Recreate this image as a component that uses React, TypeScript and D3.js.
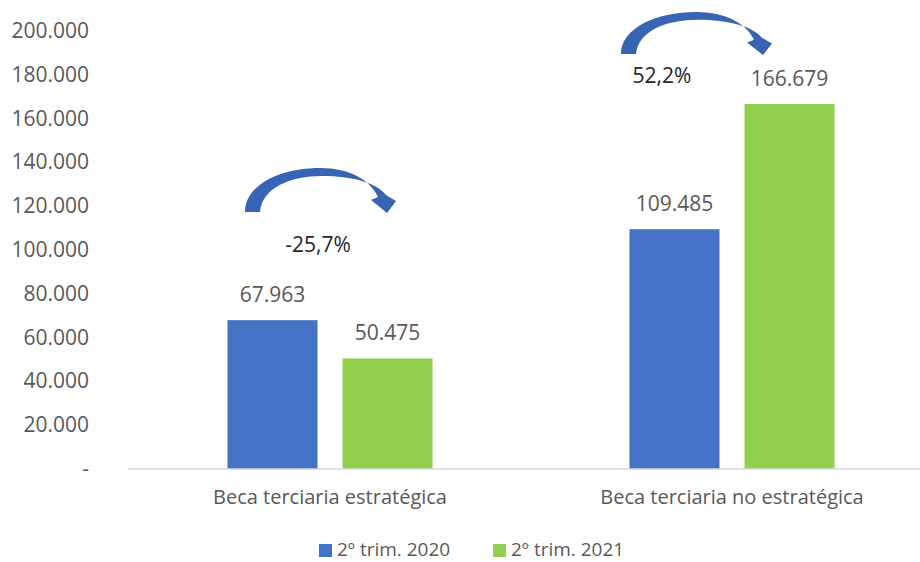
import React from "react";
import * as d3 from "d3";

const categories = ["Beca terciaria estratégica", "Beca terciaria no estratégica"];
const series = ["2º trim. 2020", "2º trim. 2021"];
const values2020 = [67963, 109485];
const values2021 = [50475, 166679];
const yTicks = [0, 20000, 40000, 60000, 80000, 100000, 120000, 140000, 160000, 180000, 200000];
const pctLabels = ["-25,7%", "52,2%"];
const pctValues = [99100, 176200];
const arrowValues = [117400, 189500];

const colors = ["#4472C4", "#92D050"];
const W = 920, H = 562;
const FONT = "'Open Sans', 'Noto Sans', sans-serif";

const fmt = (v: number) => (v === 0 ? "-" : d3.format(",")(v).replace(/,/g, "."));

function arrowPath(x0: number, y0: number, sy: number) {
  const p = (x: number, y: number) => `${x0 + x},${y0 + y * sy}`;
  return [
    `M${p(0, 0)}`,
    `C${p(0, -27)} ${p(35, -44)} ${p(75, -44)}`,
    `C${p(105, -44)} ${p(125, -32)} ${p(133, -15)}`,
    `L${p(126, -12)}`,
    `L${p(142, 1)}`,
    `L${p(151, -11)}`,
    `L${p(141, -17)}`,
    `C${p(132, -29)} ${p(107, -36)} ${p(77, -36)}`,
    `C${p(45, -36)} ${p(17, -24)} ${p(15, 0)}`,
    "Z",
  ].join(" ");
}

export default function App() {
  const y = d3.scaleLinear().domain([0, 200000]).range([469, 31]);
  const x0 = d3.scaleBand<string>().domain(categories).range([129, 933]).paddingInner(0).paddingOuter(0);
  const inner = 205;
  const x1 = d3.scaleBand<string>().domain(series).range([0, inner]).paddingInner(25 / 115).paddingOuter(0);
  const groupOffset = (x0.bandwidth() - inner) / 2;
  const data = [values2020, values2021];
  const arrowDx = [-85, -111];
  const arrowSy = [1, 42 / 44];
  const pctDx = [-12, -70];
  const textColor = "#595959";
  const fs = 21;

  return (
    <div style={{ position: "fixed", left: 0, top: 0 }}>
      <svg width={W} height={H} style={{ display: "block", background: "#fff" }}>
        {yTicks.map((t) => (
          <text key={t} x={89} y={y(t) + 7} textAnchor="end" fontFamily={FONT} fontSize={fs} fill={textColor}>
            {fmt(t)}
          </text>
        ))}
        {categories.map((c, ci) =>
          series.map((s, si) => {
            const v = data[si][ci];
            const bx = (x0(c) as number) + groupOffset + (x1(s) as number);
            return (
              <g key={c + s}>
                <rect x={bx} y={y(v)} width={x1.bandwidth()} height={y(0) - y(v)} fill={colors[si]} />
                <text x={bx + x1.bandwidth() / 2} y={y(v) - 18} textAnchor="middle" fontFamily={FONT} fontSize={fs} fill={textColor}>
                  {fmt(v)}
                </text>
              </g>
            );
          })
        )}
        <line x1={128} x2={W} y1={y(0)} y2={y(0)} stroke="#d9d9d9" strokeWidth={1.5} />
        {categories.map((c) => (
          <text key={c} x={(x0(c) as number) + x0.bandwidth() / 2} y={504} textAnchor="middle" fontFamily={FONT} fontSize={20} fill={textColor}>
            {c}
          </text>
        ))}
        {categories.map((c, ci) => {
          const cx = (x0(c) as number) + x0.bandwidth() / 2;
          return (
            <g key={"ann" + c}>
              <path d={arrowPath(cx + arrowDx[ci], y(arrowValues[ci]), arrowSy[ci])} fill="#3864B4" />
              <text x={cx + pctDx[ci]} y={y(pctValues[ci])} textAnchor="middle" fontFamily={FONT} fontSize={fs} fill="#262626">
                {pctLabels[ci]}
              </text>
            </g>
          );
        })}
        {series.map((s, si) => {
          const lx = [319, 493][si];
          return (
            <g key={"leg" + s}>
              <rect x={lx} y={544} width={13} height={13} fill={colors[si]} />
              <text x={lx + 18} y={556} fontFamily={FONT} fontSize={19} fill={textColor}>
                {s}
              </text>
            </g>
          );
        })}
      </svg>
    </div>
  );
}
